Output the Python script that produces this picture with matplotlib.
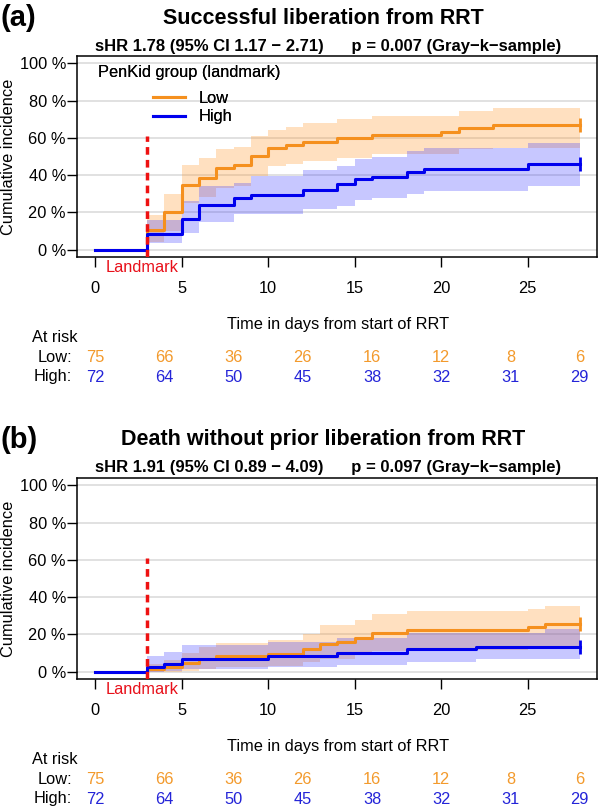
import matplotlib
matplotlib.use("Agg")
import matplotlib.pyplot as plt
from matplotlib.transforms import blended_transform_factory

plt.rcParams["font.family"] = ["Liberation Sans", "DejaVu Sans"]

# panel (a): successful liberation from RRT
a_low_t = [0, 3, 4, 5, 6, 7, 8, 9, 10, 11, 12, 14, 16, 20, 21, 23, 28]
a_low_est = [0, 10.4, 20.1, 34.7, 38.6, 44.0, 45.5, 50.3, 54.8, 56.3, 57.9, 60.0, 61.5, 62.9, 65.3, 67.1, 67.1]
a_low_lo = [0, 4, 10, 25, 28, 33, 34, 39.5, 45, 46, 47.5, 49.4, 51.4, 51.4, 54, 54.3, 54.3]
a_low_hi = [0, 18.3, 29.6, 45.5, 49, 54, 55, 61, 64, 66, 68, 70.1, 71.6, 71.6, 74.6, 76, 76]

a_high_t = [0, 3, 5, 6, 8, 9, 12, 14, 15, 16, 18, 19, 25, 28]
a_high_est = [0, 8.1, 16.5, 23.9, 27.9, 29.3, 31.8, 35.0, 37.7, 39.0, 41.9, 43.2, 45.9, 45.9]
a_high_lo = [0, 3.6, 9, 15, 19, 19, 21.6, 23.4, 26.4, 27.9, 30, 31.5, 34, 34]
a_high_hi = [0, 16, 26, 34, 36, 39.5, 43, 45, 48.5, 49.8, 53, 54.3, 57, 57]

# panel (b): death without prior liberation
b_low_t = [0, 3, 4, 5, 6, 7, 10, 12, 13, 14, 15, 16, 18, 25, 26, 28]
b_low_est = [0, 1.3, 2.3, 4.5, 6.8, 8.1, 9.5, 12.2, 14.9, 15.8, 18.2, 20.9, 22.5, 23.9, 25.4, 25.4]
b_low_lo = [0, 0, 0, 0.5, 1.5, 2.5, 3, 5, 6.5, 7, 9, 11, 11.5, 12.5, 13.5, 13.5]
b_low_hi = [0, 4, 6, 10, 13, 15.3, 17.1, 20.3, 24.8, 24.8, 27.9, 30.8, 32.4, 33.8, 35.4, 35.4]

b_high_t = [0, 3, 4, 5, 10, 14, 18, 22, 26, 28]
b_high_est = [0, 2.7, 4.1, 6.8, 8.3, 9.9, 12.2, 13.1, 13.1, 13.1]
b_high_lo = [0, 0, 0.5, 1.6, 2.5, 3.5, 5, 6.8, 6.8, 6.8]
b_high_hi = [0, 8.6, 10.4, 14.4, 16, 18, 20.9, 20.9, 23, 23]

risk_times = [0, 4, 8, 12, 16, 20, 24, 28]
a_risk_low = [75, 66, 36, 26, 16, 12, 8, 6]
a_risk_high = [72, 64, 50, 45, 38, 32, 31, 29]
b_risk_low = [75, 66, 36, 26, 16, 12, 8, 6]
b_risk_high = [72, 64, 50, 45, 38, 32, 31, 29]

yticks = [0, 20, 40, 60, 80, 100]
ytick_labels = ["0 %", "20 %", "40 %", "60 %", "80 %", "100 %"]
xticks = [0, 5, 10, 15, 20, 25]
landmark_day = 3
landmark_top = 61

titles = ["Successful liberation from RRT", "Death without prior liberation from RRT"]
subtitles = ["sHR 1.78 (95% CI 1.17 \u2212 2.71)      p = 0.007 (Gray\u2212k\u2212sample)",
             "sHR 1.91 (95% CI 0.89 \u2212 4.09)      p = 0.097 (Gray\u2212k\u2212sample)"]

ORANGE = "#F5901E"
BLUE = "#0000EE"
ORANGE_TXT = "#F39A2C"
BLUE_TXT = "#2424D8"
FS = 11.8

W, H = 598, 810
fig = plt.figure(figsize=(W / 100, H / 100), dpi=100)


def fx(px):
    return px / W


def fy(py):
    return 1 - py / H


def draw_panel(off, letter, title, subtitle, low, high, risk_low, risk_high):
    left, right, top, bottom = 77, 597, 56 + off, 257 + off
    ax = fig.add_axes([fx(left), fy(bottom), (right - left) / W, (bottom - top) / H])
    ax.set_xlim(-1.05, 29.0)
    ax.set_ylim(-4, 104)
    for y in yticks:
        ax.axhline(y, color="#DEDEDE", lw=1.3, zorder=0)

    for (t, est, lo, hi), band, alpha in [(low, "#FF9A30", 0.3), (high, "#3030FF", 0.27)]:
        ax.fill_between(t, lo, hi, step="post", color=band, alpha=alpha, lw=0, zorder=1)
    for (t, est, lo, hi), col in [(low, ORANGE), (high, BLUE)]:
        ax.step(t, est, where="post", color=col, lw=2.2, zorder=3)
        ax.plot(t[-1], est[-1], marker="|", ms=10, mew=2, color=col, zorder=3)

    ax.vlines(landmark_day, -4, landmark_top, colors="#EE1111", lw=2.5,
              linestyles=(0, (2.2, 1.5)), zorder=4)

    ax.set_xticks(xticks)
    ax.set_yticks(yticks)
    ax.set_yticklabels(ytick_labels)
    ax.tick_params(axis="x", length=7, width=1, pad=10, labelsize=FS)
    ax.tick_params(axis="y", length=7, width=1, pad=1, labelsize=FS)
    for s in ax.spines.values():
        s.set_linewidth(1.1)

    ax.set_ylabel("Cumulative incidence", fontsize=FS)
    ax.yaxis.set_label_coords((16 - left) / (right - left), 0.5)

    # legend
    ax.text((98 - left) / (right - left), (bottom - 72) / (bottom - top),
            "PenKid group (landmark)", transform=ax.transAxes, fontsize=FS, va="center")
    h1, = ax.plot([], [], color=ORANGE, lw=2.2, label="Low")
    h2, = ax.plot([], [], color=BLUE, lw=2.2, label="High")
    ax.legend(handles=[h1, h2], loc="upper left", frameon=False, fontsize=FS,
              bbox_to_anchor=((153 - left) / (right - left), (bottom - 91) / (bottom - top)),
              borderpad=0, borderaxespad=0, handlelength=1.95, handletextpad=0.85,
              labelspacing=0.2)

    tr = blended_transform_factory(ax.transData, fig.transFigure)
    ax.text(2.7, fy(268 + off), "Landmark", color="#E8101A", fontsize=FS,
            ha="center", va="center", transform=tr)
    fig.text(fx(338), fy(325 + off), "Time in days from start of RRT", fontsize=FS,
             ha="center", va="center")
    fig.text(fx(32), fy(337 + off), "At risk", fontsize=FS, va="center")
    fig.text(fx(72), fy(357 + off), "Low:", fontsize=FS, ha="right", va="center")
    fig.text(fx(72), fy(377 + off), "High:", fontsize=FS, ha="right", va="center")
    for t, nl, nh in zip(risk_times, risk_low, risk_high):
        ax.text(t, fy(357 + off), str(nl), color=ORANGE_TXT, fontsize=FS,
                ha="center", va="center", transform=tr)
        ax.text(t, fy(377 + off), str(nh), color=BLUE_TXT, fontsize=FS,
                ha="center", va="center", transform=tr)

    fig.text(fx(0), fy(18 + off), letter, fontsize=21, fontweight="bold", va="center")
    fig.text(fx(323), fy(18 + off), title, fontsize=15.5, fontweight="bold",
             ha="center", va="center")
    fig.text(fx(328), fy(46 + off), subtitle, fontsize=12, fontweight="bold",
             ha="center", va="center")
    return ax


draw_panel(0, "(a)", titles[0], subtitles[0],
           (a_low_t, a_low_est, a_low_lo, a_low_hi),
           (a_high_t, a_high_est, a_high_lo, a_high_hi),
           a_risk_low, a_risk_high)
draw_panel(422, "(b)", titles[1], subtitles[1],
           (b_low_t, b_low_est, b_low_lo, b_low_hi),
           (b_high_t, b_high_est, b_high_lo, b_high_hi),
           b_risk_low, b_risk_high)

fig.savefig("out.png", dpi=100)
